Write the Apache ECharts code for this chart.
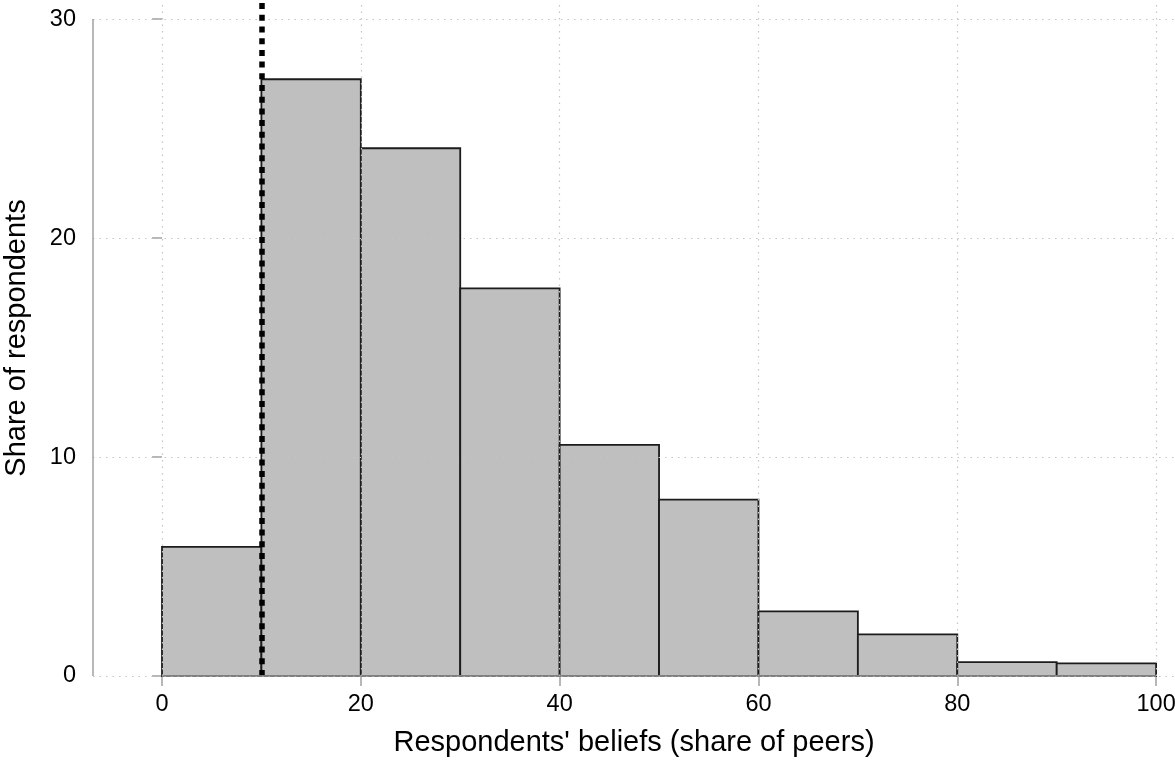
<!DOCTYPE html>
<html>
<head>
<meta charset="utf-8">
<script src="https://cdn.jsdelivr.net/npm/echarts@6/dist/echarts.min.js"></script>
<style>
html,body{margin:0;padding:0;background:#fff;}
#chart{width:1175px;height:761px;}
</style>
</head>
<body>
<div id="chart"></div>
<script>
// ---- data ----
const binStarts = [0, 10, 20, 30, 40, 50, 60, 70, 80, 90];
const binEnds   = [10, 20, 30, 40, 50, 60, 70, 80, 90, 100];
const shares    = [5.9, 27.25, 24.1, 17.7, 10.55, 8.05, 2.95, 1.9, 0.63, 0.58];
const xTicks = [0, 20, 40, 60, 80, 100];
const yTicks = [0, 10, 20, 30];
const refValue = 10;
const xTitle = "Respondents' beliefs (share of peers)";
const yTitle = "Share of respondents";

// ---- layout ----
const X_MIN = -6.94, X_MAX = 101.9;
const Y_MIN = 0, Y_MAX = 30.87;
const FONT = "'Liberation Sans', Arial, sans-serif";

const bins = binStarts.map((s, i) => [s, binEnds[i], shares[i]]);

const gridLines = [];
xTicks.forEach(v => gridLines.push([{coord: [v, Y_MIN]}, {coord: [v, Y_MAX]}]));
yTicks.forEach(v => gridLines.push([{coord: [X_MIN, v]}, {coord: [X_MAX, v]}]));

const chart = echarts.init(document.getElementById('chart'), null, {renderer: 'canvas'});
chart.setOption({
  animation: false,
  backgroundColor: '#ffffff',
  grid: {left: 93, right: 0, top: 0, bottom: 85, containLabel: false, outerBoundsMode: 'none'},
  xAxis: {
    type: 'value', min: X_MIN, max: X_MAX,
    axisLine: {show: false},
    splitLine: {show: false},
    axisTick: {show: true, customValues: xTicks, length: 10, lineStyle: {color: '#a0a0a0', width: 1.5}},
    axisLabel: {customValues: xTicks, fontSize: 23.5, color: '#000', fontFamily: FONT, margin: 17},
    name: xTitle, nameLocation: 'middle', nameGap: 52,
    nameTextStyle: {fontSize: 29, color: '#000', fontFamily: FONT}
  },
  yAxis: {
    type: 'value', min: Y_MIN, max: Y_MAX,
    axisLine: {show: false},
    splitLine: {show: false},
    axisTick: {show: true, customValues: yTicks, length: 10, lineStyle: {color: '#a0a0a0', width: 1.5}},
    axisLabel: {customValues: yTicks, fontSize: 23.5, color: '#000', fontFamily: FONT, margin: 17},
    name: yTitle, nameLocation: 'middle', nameGap: 62,
    nameTextStyle: {fontSize: 29, color: '#000', fontFamily: FONT}
  },
  series: [
    {
      type: 'line', data: [], z: 1, silent: true,
      markLine: {
        silent: true, symbol: 'none', label: {show: false},
        lineStyle: {color: '#c4c4c4', width: 1.2, type: [1.5, 5]},
        data: gridLines, animation: false
      }
    },
    {
      type: 'line', data: [], z: 2, silent: true,
      markLine: {
        silent: true, symbol: 'none', label: {show: false},
        lineStyle: {color: '#000', width: 5.5, type: [6, 5.7]},
        data: [[{coord: [refValue, Y_MIN]}, {coord: [refValue, Y_MAX]}]], animation: false
      }
    },
    {
      type: 'custom', z: 3,
      data: bins,
      encode: {x: [0, 1], y: 2},
      renderItem: function (params, api) {
        const p0 = api.coord([api.value(0), 0]);
        const p1 = api.coord([api.value(1), api.value(2)]);
        return {
          type: 'rect',
          shape: {x: p0[0], y: p1[1], width: p1[0] - p0[0], height: p0[1] - p1[1]},
          style: {fill: '#bfbfbf', stroke: '#1c1c1c', lineWidth: 1.8}
        };
      }
    },
    {
      type: 'line', data: [], z: 4, silent: true,
      markLine: {
        silent: true, symbol: 'none', label: {show: false},
        lineStyle: {color: '#a0a0a0', width: 1.5, type: 'solid'},
        data: [
          [{coord: [xTicks[0], Y_MIN]}, {coord: [xTicks[xTicks.length - 1], Y_MIN]}],
          [{coord: [X_MIN, yTicks[0]]}, {coord: [X_MIN, yTicks[yTicks.length - 1]]}]
        ], animation: false
      }
    }
  ]
});
</script>
</body>
</html>
